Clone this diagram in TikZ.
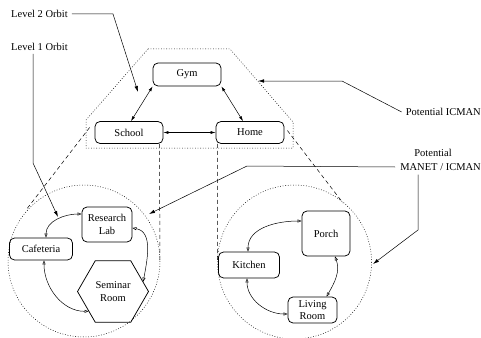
\documentclass[tikz,border=0pt]{standalone}
\usepackage{fontspec}
\setmainfont{Liberation Serif}
\usetikzlibrary{arrows.meta,shapes.geometric,calc}
\begin{document}
\begin{tikzpicture}[x=1pt,y=-1pt,
  font=\fontsize{10.5}{12.5}\selectfont,
  place/.style={draw,line width=0.75pt,rounded corners=5pt,inner sep=0pt,align=center},
  lbl/.style={inner sep=0pt},
  conn/.style={line width=0.5pt},
  farr/.style={line width=0.5pt,{Latex[length=5pt,width=3pt]}-{Latex[length=5pt,width=3pt]}},
  oarr/.style={line width=0.5pt,{Triangle[open,length=4pt,width=3pt]}-{Triangle[open,length=4pt,width=3pt]}},
  ptr/.style={line width=0.5pt,-{Latex[length=6pt,width=3.5pt]}},
  orbit/.style={line width=0.5pt,dash pattern=on 0.8pt off 1.8pt},
  zoomln/.style={line width=0.5pt,dash pattern=on 4pt off 3pt}
]
\useasboundingbox (0,0) rectangle (481,337);

% top level
\node[place,minimum width=68pt,minimum height=23pt] (gym) at (187,74.5) {Gym};
\node[place,minimum width=68pt,minimum height=22pt] (school) at (129,132.5) {School};
\node[place,minimum width=68pt,minimum height=22pt] (home) at (250,132.5) {Home};
\draw[orbit] (148,49) -- (230,49) -- (293,122) -- (293,148) -- (86,148) -- (86,120) -- cycle;
\draw[farr] (gym.south west) -- ([xshift=2pt]school.north);
\draw[farr] (gym.south east) -- ([xshift=-7pt]home.north);
\draw[farr] (school.east) -- (home.west);

% left circle
\coordinate (lc) at (84,261);
\draw[orbit] (lc) circle[radius=76];
\node[place,minimum width=50pt,minimum height=35pt] (rl) at (107,224.5) {Research\\Lab};
\node[place,minimum width=63pt,minimum height=22pt] (caf) at (41,249) {Cafeteria};
\node[draw,line width=0.75pt,regular polygon,regular polygon sides=6,minimum size=71pt,inner sep=0pt,align=center] (sem) at (113,291.5) {Seminar\\Room};
\draw[oarr] ([xshift=5pt]caf.north) to[out=90,in=180] ([yshift=10.5pt]rl.west);
\draw[oarr] ([yshift=-3.5pt]rl.east) to[out=-10,in=80] (sem.18);
\draw[oarr] ([xshift=3pt]caf.south) to[out=-90,in=180] (sem.219);

% right circle
\coordinate (rc) at (294.5,262);
\draw[orbit] (rc) circle[radius=77];
\node[place,minimum width=48pt,minimum height=45pt] (porch) at (326,233.5) {Porch};
\node[place,minimum width=61pt,minimum height=26pt] (kit) at (249,265) {Kitchen};
\node[place,minimum width=49pt,minimum height=26pt] (lr) at (312.5,310) {Living\\Room};
\draw[oarr] ([xshift=-1pt]kit.north) to[out=90,in=180] ([yshift=12.5pt]porch.west);
\draw[oarr] ([xshift=9pt]porch.south) to[out=-70,in=60] ([xshift=14pt]lr.north);
\draw[oarr] ([xshift=-2pt]kit.south) to[out=-90,in=180] ([yshift=-4pt]lr.west);

% zoom lines
\coordinate (lct) at (26,210);
\coordinate (lce) at (160,261);
\coordinate (rcw) at (217.5,262);
\coordinate (rct) at (343,203);
\draw[zoomln] ([yshift=5pt]school.west) ++(-5pt,0) -- (lct);
\draw[zoomln] ([xshift=-4pt]school.south east) -- (lce);
\draw[zoomln] ([xshift=2pt]home.south west) -- (rcw);
\draw[zoomln] ([xshift=3pt,yshift=2pt]home.east) -- (rct);

% labels
\node[lbl,anchor=west] (lvl2) at (11,14) {Level 2 Orbit};
\node[lbl,anchor=west] (lvl1) at (11,47) {Level 1 Orbit};
\node[lbl,anchor=east] (potI) at (481,112) {Potential ICMAN};
\node[lbl] (potM1) at (433,153) {Potential};
\node[lbl,anchor=east] (potM2) at (481,167) {MANET / ICMAN};

\coordinate (l2a) at (113,14);
\coordinate (l2t) at (138,92);
\draw[ptr] ([xshift=4pt]lvl2.east) -- (l2a) -- (l2t);
\coordinate (l1a) at (33,163);
\coordinate (l1t) at (58,217);
\draw[ptr] (lvl1.south -| l1a) ++(0,-3pt) -- (l1a) -- (l1t);
\coordinate (pia) at (342,81);
\coordinate (pit) at (258,81);
\draw[ptr] ([xshift=-4pt]potI.west) -- (pia) -- (pit);
\coordinate (pma) at (247,166);
\coordinate (pmt) at (149,214);
\draw[ptr] ([xshift=-5pt]potM2.west) -- (pma) -- (pmt);
\coordinate (pmb) at (418,230);
\coordinate (pmc) at (373,264);
\draw[ptr] (potM2.south -| pmb) ++(0,-4pt) -- (pmb) -- (pmc);
\end{tikzpicture}
\end{document}
